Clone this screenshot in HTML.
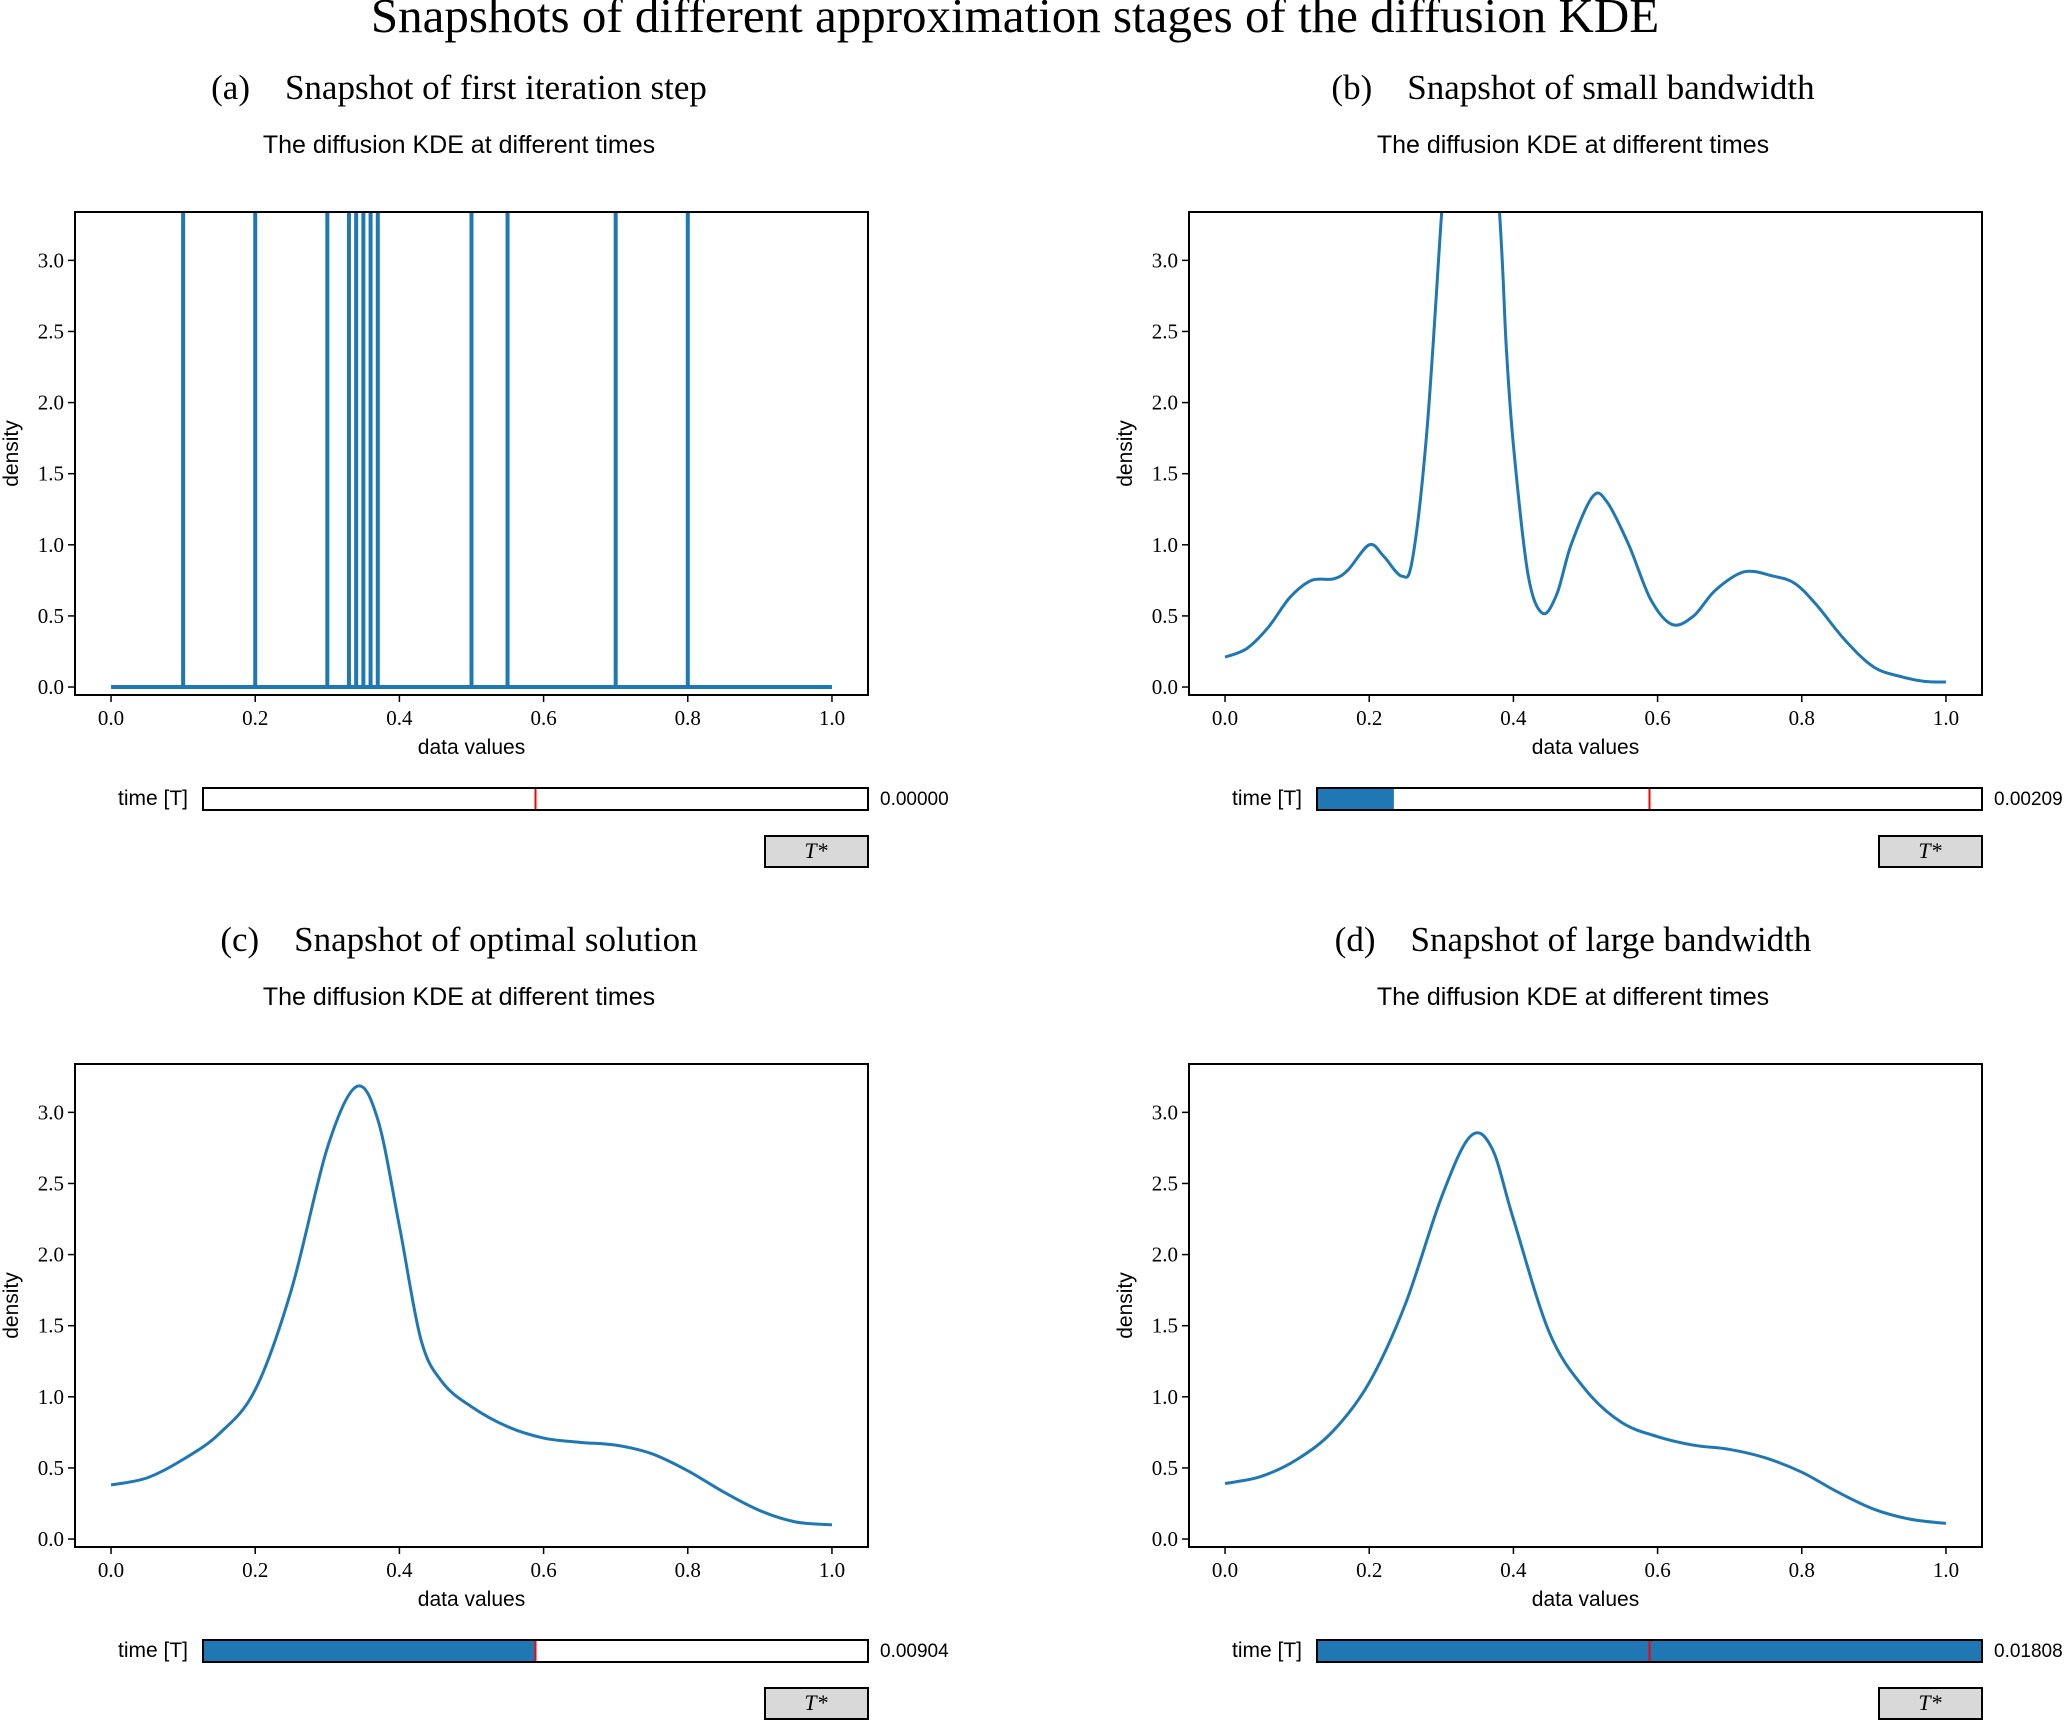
<!DOCTYPE html>
<html><head><meta charset="utf-8">
<style>
html,body{margin:0;padding:0;background:#fff;}
svg{display:block;}
.serif{font-family:"Liberation Serif","DejaVu Serif",serif;}
.sans{font-family:"Liberation Sans","DejaVu Sans",sans-serif;}
</style></head>
<body>
<svg id="fig" width="2067" height="1721" viewBox="0 0 2067 1721" xmlns="http://www.w3.org/2000/svg">
<text class="serif" x="1015" y="32" font-size="49" text-anchor="middle">Snapshots of different approximation stages of the diffusion KDE</text>
</svg>
<script>
const xTicks=[0,0.2,0.4,0.6,0.8,1.0];
const xTickLabels=["0.0","0.2","0.4","0.6","0.8","1.0"];
const yTicks=[0,0.5,1,1.5,2,2.5,3];
const yTickLabels=["0.0","0.5","1.0","1.5","2.0","2.5","3.0"];
const spikePositions=[0.1,0.2,0.3,0.33,0.34,0.35,0.36,0.37,0.5,0.55,0.7,0.8];
const bX=[0,0.03,0.06,0.09,0.12,0.15,0.17,0.2,0.22,0.245,0.26,0.28,0.3,0.31,0.345,0.38,0.39,0.4,0.42,0.44,0.46,0.48,0.51,0.53,0.56,0.59,0.62,0.65,0.68,0.72,0.76,0.79,0.82,0.86,0.9,0.94,0.97,1.0];
const bY=[0.21,0.27,0.42,0.63,0.75,0.76,0.82,1.0,0.92,0.78,0.9,1.8,3.3,4.0,6.0,3.4,2.4,1.7,0.8,0.52,0.65,1.0,1.34,1.3,1.0,0.62,0.44,0.5,0.68,0.81,0.78,0.73,0.58,0.33,0.14,0.07,0.04,0.035];
const cX=[0,0.05,0.1,0.15,0.2,0.25,0.3,0.34,0.37,0.4,0.43,0.46,0.5,0.55,0.6,0.65,0.7,0.75,0.8,0.85,0.9,0.95,1.0];
const cY=[0.38,0.43,0.56,0.74,1.05,1.75,2.75,3.18,2.95,2.2,1.4,1.1,0.93,0.79,0.71,0.68,0.66,0.6,0.48,0.33,0.2,0.12,0.1];
const dX=[0,0.05,0.1,0.15,0.2,0.25,0.3,0.34,0.37,0.4,0.45,0.5,0.55,0.6,0.65,0.7,0.75,0.8,0.85,0.9,0.95,1.0];
const dY=[0.39,0.44,0.56,0.76,1.1,1.65,2.4,2.83,2.75,2.25,1.45,1.05,0.82,0.72,0.66,0.63,0.57,0.47,0.33,0.21,0.14,0.11];
const sliderValues=[0.0,0.00209,0.00904,0.01808];
const sliderLabels=["0.00000","0.00209","0.00904","0.01808"];
const sliderMax=0.01808;
const sliderMarker=0.5;
const panelTitles=["(a)\u2003Snapshot of first iteration step","(b)\u2003Snapshot of small bandwidth","(c)\u2003Snapshot of optimal solution","(d)\u2003Snapshot of large bandwidth"];

const NS="http://www.w3.org/2000/svg";
const svg=document.getElementById('fig');
function mk(tag,attrs,parent){const e=document.createElementNS(NS,tag);for(const k in attrs)e.setAttribute(k,attrs[k]);(parent||svg).appendChild(e);return e;}
const BLUE="#1f77b4";
const XMIN=-0.05,XMAX=1.05,YMIN=-0.056,YMAX=3.34;

function smoothPath(px,py){
  let d="M"+px[0]+","+py[0];
  for(let i=0;i<px.length-1;i++){
    const x0=px[Math.max(i-1,0)],y0=py[Math.max(i-1,0)];
    const x1=px[i],y1=py[i],x2=px[i+1],y2=py[i+1];
    const x3=px[Math.min(i+2,px.length-1)],y3=py[Math.min(i+2,py.length-1)];
    const c1x=x1+(x2-x0)/6,c1y=y1+(y2-y0)/6,c2x=x2-(x3-x1)/6,c2y=y2-(y3-y1)/6;
    d+=" C"+c1x+","+c1y+" "+c2x+","+c2y+" "+x2+","+y2;
  }
  return d;
}

function panel(idx,ox,oy){
  const L=ox,R=ox+793,T=oy,B=oy+483;
  const sx=v=>L+(v-XMIN)/(XMAX-XMIN)*(R-L);
  const sy=v=>B-(v-YMIN)/(YMAX-YMIN)*(B-T);
  const g=mk('g',{});
  
  
  const cx=ox+384;
  const pt=mk('text',{x:cx,y:oy-113,'font-size':35,'text-anchor':'middle',class:'serif'},g);
  pt.textContent=panelTitles[idx];
  
  
  const at=mk('text',{x:cx,y:oy-59,'font-size':25,'text-anchor':'middle',class:'sans'},g);
  at.textContent="The diffusion KDE at different times";
  
  
  const cid='clip'+idx;
  const cp=mk('clipPath',{id:cid},g);
  mk('rect',{x:L,y:T,width:R-L,height:B-T},cp);
  const pg=mk('g',{'clip-path':'url(#'+cid+')'},g);
  let path;
  if(idx===0){
    let d="M"+sx(0)+","+sy(0);
    spikePositions.forEach(p=>{d+=" L"+sx(p)+","+sy(0)+" L"+sx(p)+","+(T-10)+" L"+sx(p)+","+sy(0);});
    d+=" L"+sx(1)+","+sy(0);
    path=mk('path',{d:d,fill:'none',stroke:BLUE,'stroke-width':4},pg);
  } else {
    const X=[null,bX,cX,dX][idx],Y=[null,bY,cY,dY][idx];
    path=mk('path',{d:smoothPath(X.map(sx),Y.map(sy)),fill:'none',stroke:BLUE,'stroke-width':3,'stroke-linejoin':'round'},pg);
  }
  
  
  const fr=mk('rect',{x:L,y:T,width:R-L,height:B-T,fill:'none',stroke:'#000','stroke-width':2},g);
  
  
  xTicks.forEach((v,i)=>{
    mk('line',{x1:sx(v),x2:sx(v),y1:B,y2:B+7,stroke:'#000','stroke-width':1.5},g);
    const t=mk('text',{x:sx(v),y:B+30,'font-size':21,'text-anchor':'middle',class:'serif'},g);
    t.textContent=xTickLabels[i];
    
    
  });
  yTicks.forEach((v,i)=>{
    mk('line',{x1:L-7,x2:L,y1:sy(v),y2:sy(v),stroke:'#000','stroke-width':1.5},g);
    const t=mk('text',{x:L-11,y:sy(v)+7,'font-size':21,'text-anchor':'end',class:'serif'},g);
    t.textContent=yTickLabels[i];
    
    
  });
  const xl=mk('text',{x:(L+R)/2,y:B+59,'font-size':21,'text-anchor':'middle',class:'sans'},g);
  xl.textContent="data values";
  
  
  const yl=mk('text',{x:0,y:0,'font-size':21,'text-anchor':'middle',class:'sans',transform:'translate('+(ox-57)+','+((T+B)/2)+') rotate(-90)'},g);
  yl.textContent="density";
  
  
  const sL=ox+128,sR=R,sT=B+93,sH=22;
  const lab=mk('text',{x:sL-15,y:sT+17,'font-size':21,'text-anchor':'end',class:'sans'},g);
  lab.textContent="time [T]";
  
  
  const sg=mk('g',{},g);
  
  
  mk('rect',{x:sL,y:sT,width:sR-sL,height:sH,fill:'#fff'},sg);
  const fw=(sliderValues[idx]/sliderMax)*(sR-sL);
  const fill=mk('rect',{x:sL,y:sT,width:fw,height:sH,fill:BLUE},sg);
  
  
  const mx=sL+sliderMarker*(sR-sL);
  const mline=mk('line',{x1:mx,x2:mx,y1:sT,y2:sT+sH,stroke:'#ff0000','stroke-width':2},sg);
  
  
  mk('rect',{x:sL,y:sT,width:sR-sL,height:sH,fill:'none',stroke:'#000','stroke-width':2},sg);
  const val=mk('text',{x:sR+12,y:sT+17,'font-size':19,class:'sans'},g);
  val.textContent=sliderLabels[idx];
  
  
  const bg=mk('g',{},g);
  
  
  mk('rect',{x:R-103,y:sT+48,width:103,height:31,fill:'#d9d9d9',stroke:'#000','stroke-width':2},bg);
  const bt=mk('text',{x:R-52,y:sT+70,'font-size':22,'text-anchor':'middle',class:'serif','font-style':'italic'},bg);
  bt.textContent="T*";
}
panel(0,75,212);
panel(1,1189,212);
panel(2,75,1064);
panel(3,1189,1064);
</script>
</body></html>
